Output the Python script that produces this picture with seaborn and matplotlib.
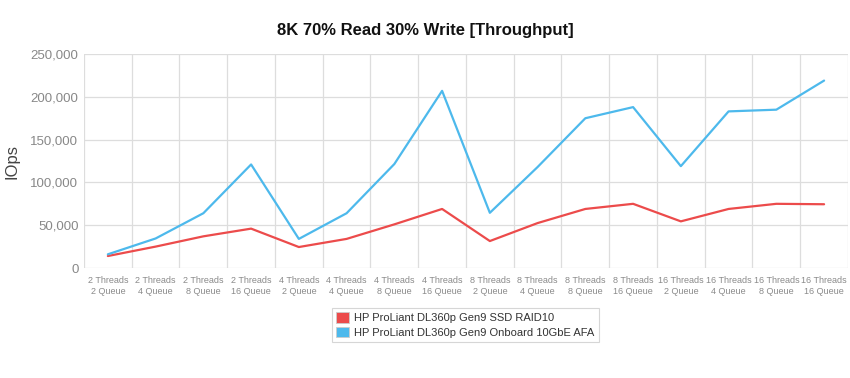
import matplotlib
matplotlib.use("Agg")
import matplotlib.pyplot as plt
import pandas as pd
import seaborn as sns
from matplotlib.patches import Patch
from matplotlib.ticker import FuncFormatter, MultipleLocator

categories = [
    "2 Threads\n2 Queue", "2 Threads\n4 Queue", "2 Threads\n8 Queue", "2 Threads\n16 Queue",
    "4 Threads\n2 Queue", "4 Threads\n4 Queue", "4 Threads\n8 Queue", "4 Threads\n16 Queue",
    "8 Threads\n2 Queue", "8 Threads\n4 Queue", "8 Threads\n8 Queue", "8 Threads\n16 Queue",
    "16 Threads\n2 Queue", "16 Threads\n4 Queue", "16 Threads\n8 Queue", "16 Threads\n16 Queue",
]
ssd_raid10 = [14000, 25000, 37000, 46000, 24500, 34000, 51000, 69000,
              31500, 52500, 69000, 75000, 54500, 69000, 75000, 74500]
onboard_afa = [16000, 34500, 64000, 121000, 34000, 64000, 121500, 207000,
               64500, 118000, 175000, 188000, 119000, 183000, 185000, 219000]
series_names = ["HP ProLiant DL360p Gen9 SSD RAID10",
                "HP ProLiant DL360p Gen9 Onboard 10GbE AFA"]
colors = ["#EC4B4B", "#4DB9EC"]

sns.set_style("white")
plt.rcParams["font.family"] = ["Liberation Sans", "DejaVu Sans"]

df = pd.DataFrame({
    "pos": list(range(len(categories))) * 2,
    "iops": ssd_raid10 + onboard_afa,
    "series": [series_names[0]] * len(categories) + [series_names[1]] * len(categories),
})

fig = plt.figure(figsize=(8.5, 3.78), dpi=100)
ax = fig.add_axes([0.0988, 0.291, 0.8988, 0.566])

sns.lineplot(data=df, x="pos", y="iops", hue="series", palette=colors,
             linewidth=1.6, legend=False, ax=ax)

ax.set_xlim(-0.5, len(categories) - 0.5)
ax.set_ylim(0, 250000)
ax.yaxis.set_major_locator(MultipleLocator(50000))
ax.yaxis.set_major_formatter(FuncFormatter(lambda v, p: f"{int(v):,}"))
ax.set_xticks(range(len(categories)))
ax.set_xticklabels(categories, fontsize=6.5, color="#8a8a8a", linespacing=1.25)
ax.set_xticks([i - 0.5 for i in range(len(categories) + 1)], minor=True)
ax.tick_params(axis="x", which="both", length=0, pad=6)
ax.tick_params(axis="y", length=0, labelsize=9.5, labelcolor="#888888", pad=4)
ax.grid(axis="y", which="major", color="#dddddd", linewidth=0.9)
ax.grid(axis="x", which="minor", color="#dddddd", linewidth=0.9)
ax.grid(axis="x", which="major", visible=False)
ax.set_axisbelow(True)
for s in ax.spines.values():
    s.set_visible(False)

ax.set_xlabel("")
ax.set_ylabel("IOps", fontsize=12, color="#444444", labelpad=8)
fig.text(0.5, 1 - 30 / 378, "8K 70% Read 30% Write [Throughput]", ha="center",
         va="center", fontsize=12, fontweight="bold", color="#111111")

handles = [Patch(facecolor=c, edgecolor="#cccccc", linewidth=0.6) for c in colors]
leg = fig.legend(handles, series_names, loc="center",
                 bbox_to_anchor=(465.5 / 850, 1 - 325 / 378), fontsize=8,
                 frameon=True, fancybox=False, handlelength=1.1, handleheight=1.1,
                 handletextpad=0.5, labelspacing=0.3, borderpad=0.4)
leg.get_frame().set_edgecolor("#cccccc")
leg.get_frame().set_linewidth(0.8)
for t in leg.get_texts():
    t.set_color("#333333")

fig.savefig("out.png", dpi=100)
